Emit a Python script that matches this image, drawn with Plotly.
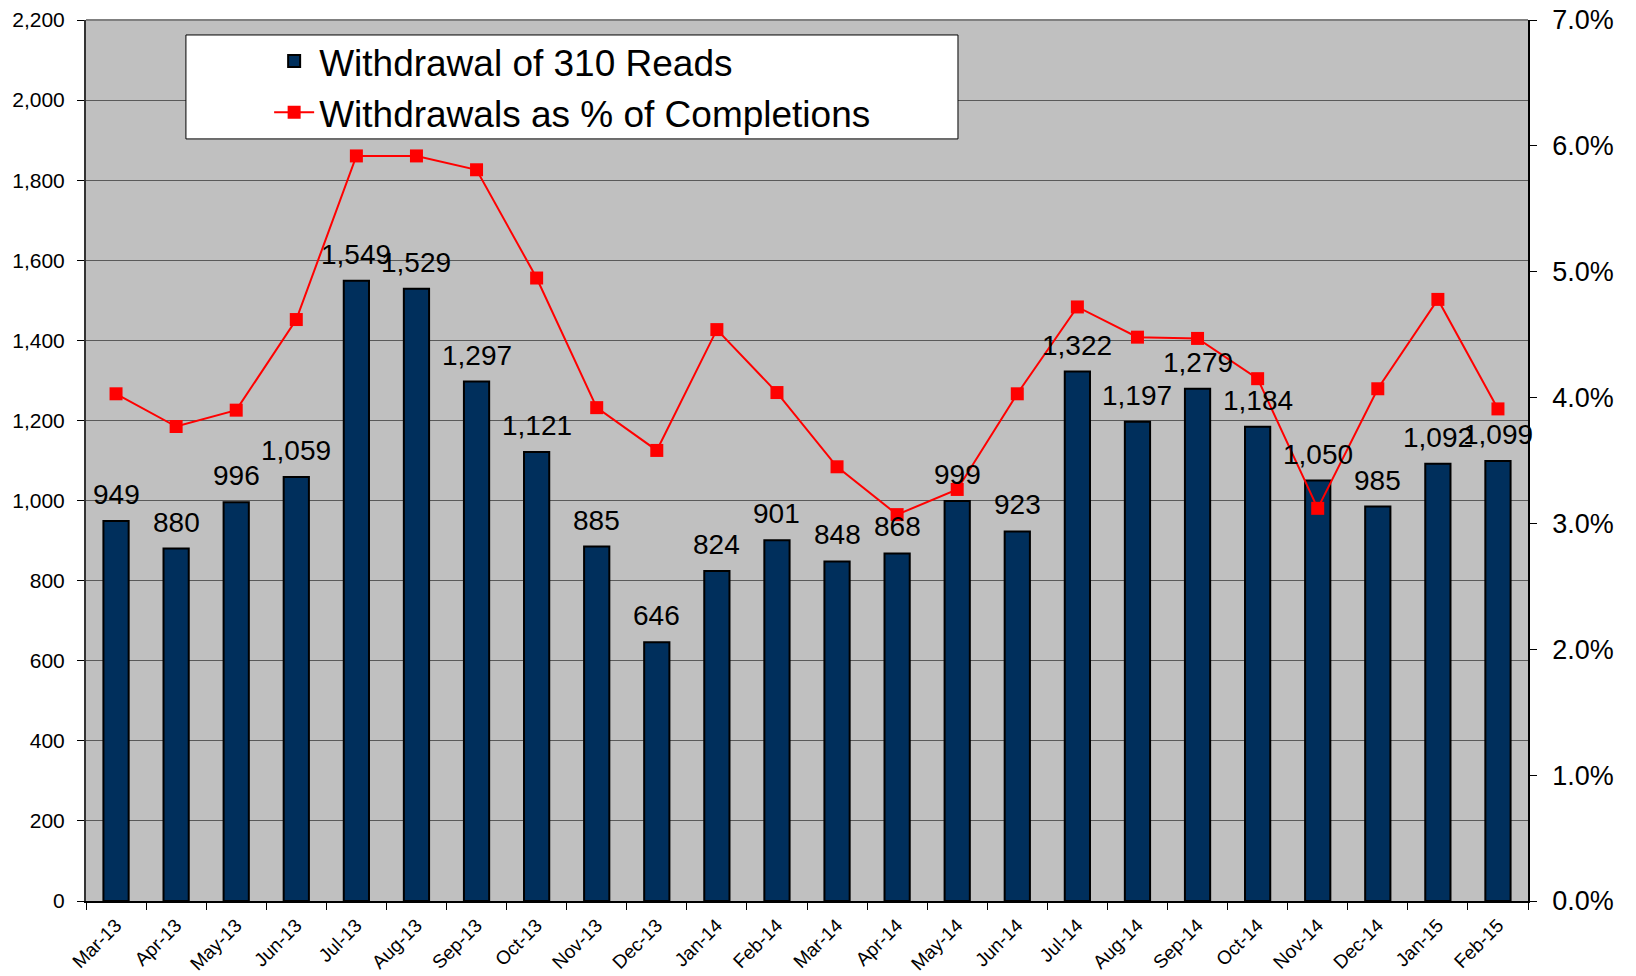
import plotly.graph_objects as go

months = ["Mar-13", "Apr-13", "May-13", "Jun-13", "Jul-13", "Aug-13", "Sep-13", "Oct-13",
          "Nov-13", "Dec-13", "Jan-14", "Feb-14", "Mar-14", "Apr-14", "May-14", "Jun-14",
          "Jul-14", "Aug-14", "Sep-14", "Oct-14", "Nov-14", "Dec-14", "Jan-15", "Feb-15"]
withdrawals = [949, 880, 996, 1059, 1549, 1529, 1297, 1121, 885, 646, 824, 901,
               848, 868, 999, 923, 1322, 1197, 1279, 1184, 1050, 985, 1092, 1099]
pct_completions = [0.0403, 0.0377, 0.0390, 0.0462, 0.0592, 0.0592, 0.0581, 0.0495,
                   0.0392, 0.0358, 0.0454, 0.0404, 0.0345, 0.0307, 0.0327, 0.0403,
                   0.0472, 0.0448, 0.0447, 0.0415, 0.0312, 0.0407, 0.0478, 0.0391]

FONT = "Arial, Liberation Sans, sans-serif"

fig = go.Figure()
fig.add_trace(go.Bar(
    x=months, y=withdrawals, name="Withdrawal of 310 Reads",
    marker=dict(color="#002F5C", line=dict(color="#000000", width=2)),
    width=0.42, yaxis="y",
))
fig.add_trace(go.Scatter(
    x=months, y=pct_completions, name="Withdrawals as % of Completions",
    mode="lines+markers", yaxis="y2",
    line=dict(color="#FF0000", width=2),
    marker=dict(symbol="square", size=13, color="#FF0000"),
))

for m, v in zip(months, withdrawals):
    fig.add_annotation(x=m, y=v, xref="x", yref="y", text=f"{v:,}",
                       showarrow=False, yanchor="bottom", yshift=9,
                       font=dict(family=FONT, size=28, color="#000000"))

fig.update_layout(
    width=1628, height=968,
    margin=dict(l=78, r=108, t=12, b=75),
    paper_bgcolor="#FFFFFF", plot_bgcolor="#C0C0C0",
    font=dict(family=FONT, color="#000000"),
    showlegend=True,
    legend=dict(x=0.127, y=0.988, xanchor="left", yanchor="top",
                bgcolor="rgba(0,0,0,0)", borderwidth=0,
                font=dict(family=FONT, size=37, color="#000000"),
                itemwidth=40, tracegroupgap=4),
    xaxis=dict(type="category", range=[-0.5, 23.5], tickson="boundaries",
               ticks="outside", ticklen=7, tickcolor="#000000", tickwidth=1,
               tickangle=-45, tickfont=dict(family=FONT, size=19),
               showline=True, linecolor="#000000", linewidth=1.5,
               showgrid=False, automargin=False, ticklabelstandoff=4,
               ticklabeloverflow="allow"),
    yaxis=dict(range=[0, 2200], dtick=200, tickformat=",",
               ticks="outside", ticklen=7, tickcolor="#000000",
               tickfont=dict(family=FONT, size=21),
               showline=True, linecolor="#333333", linewidth=2,
               showgrid=True, gridcolor="#5A5A5A", gridwidth=1,
               zeroline=False, automargin=False, ticklabelstandoff=8,
               ticklabeloverflow="allow"),
    yaxis2=dict(range=[0, 0.07], dtick=0.01, tickformat=".1%",
                overlaying="y", side="right",
                ticks="outside", ticklen=7, tickcolor="#000000",
                tickfont=dict(family=FONT, size=27),
                showline=True, linecolor="#000000", linewidth=1.5,
                showgrid=False, zeroline=False, automargin=False,
                ticklabelstandoff=10, ticklabeloverflow="allow"),
    shapes=[
        dict(type="line", xref="paper", yref="paper", x0=0, x1=1, y0=1, y1=1,
             line=dict(color="#808080", width=2), layer="above"),
        dict(type="rect", xref="paper", yref="paper",
             x0=0.0693, x1=0.6047, y0=0.865, y1=0.983,
             fillcolor="#FFFFFF", line=dict(color="#000000", width=1), layer="above"),
    ],
)

fig.write_html("out.html")
